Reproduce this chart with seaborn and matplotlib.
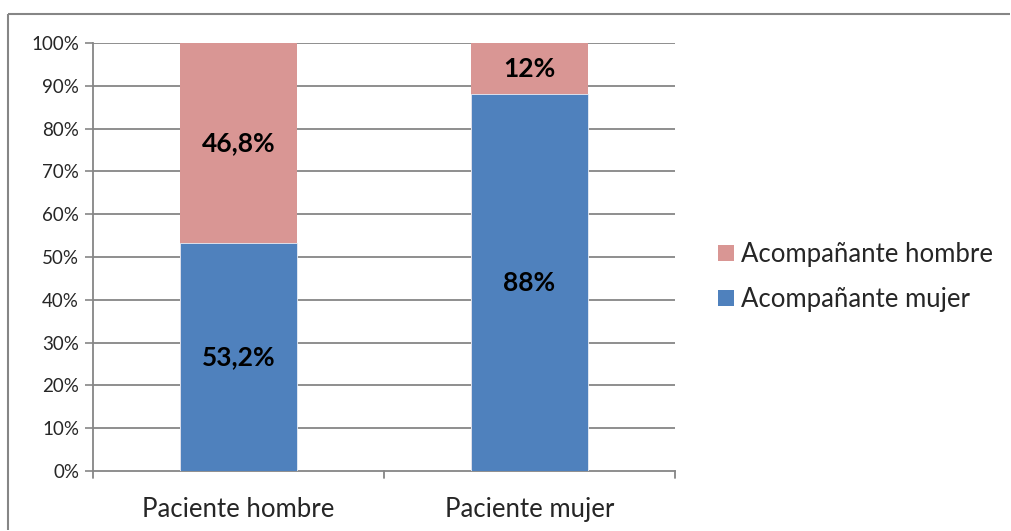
import matplotlib
matplotlib.use("Agg")
import matplotlib.pyplot as plt
from matplotlib.patches import Patch
from matplotlib.lines import Line2D
import seaborn as sns
import pandas as pd

categorias = ["Paciente hombre", "Paciente mujer"]
acomp_mujer = [53.2, 88.0]
acomp_hombre = [46.8, 12.0]
etiq_mujer = ["53,2%", "88%"]
etiq_hombre = ["46,8%", "12%"]
ticks_y = [0, 10, 20, 30, 40, 50, 60, 70, 80, 90, 100]

color_mujer = "#4F81BD"
color_hombre = "#D99694"
gris = "#868686"

sns.set_theme(style="white")
plt.rcParams["font.family"] = ["Lato", "DejaVu Sans"]

df = pd.DataFrame({
    "categoria": categorias,
    "mujer": acomp_mujer,
    "hombre": acomp_hombre,
})
df["total"] = df["mujer"] + df["hombre"]

fig = plt.figure(figsize=(10.11, 5.31), dpi=100, frameon=False)
ax = fig.add_axes([93 / 1011, 60 / 531, 582 / 1011, 428 / 531])

# stacked bars: the full height in pink, the lower segment in blue over it
sns.barplot(data=df, x="categoria", y="total", color=color_hombre, width=0.4,
            saturation=1, ax=ax, zorder=3)
sns.barplot(data=df, x="categoria", y="mujer", color=color_mujer, width=0.4,
            saturation=1, ax=ax, zorder=4)

# thin light seam between the two segments
for p in ax.patches[len(categorias):]:
    p.set_edgecolor("#E8EEF7")
    p.set_linewidth(0.6)
for p in ax.patches[:len(categorias)]:
    p.set_edgecolor("none")

ax.set_xlim(-0.5, 1.5)
ax.set_ylim(0, 100)
ax.set_yticks(ticks_y)
ax.set_yticklabels([f"{t}%" for t in ticks_y], fontsize=13.5)
ax.set_xlabel("")
ax.set_ylabel("")
ax.tick_params(axis="x", labelsize=18.5, pad=19, length=0)
ax.tick_params(axis="y", length=6, width=1.2, color=gris, pad=4, left=True)

for t in ticks_y[1:]:
    ax.axhline(t, color=gris, linewidth=1.3, zorder=1)

for s in ["top", "right"]:
    ax.spines[s].set_visible(False)
ax.spines["left"].set_color(gris)
ax.spines["left"].set_linewidth(1.3)
ax.spines["bottom"].set_color(gris)
ax.spines["bottom"].set_linewidth(1.3)

# category separators below the axis
for xv in [-0.5, 0.5, 1.5]:
    ax.plot([xv, xv], [0, -1.6], color=gris, linewidth=1.3, clip_on=False, zorder=2)

for i in range(len(categorias)):
    ax.text(i, acomp_mujer[i] / 2, etiq_mujer[i], ha="center", va="center",
            fontsize=19, fontweight="bold", color="black", zorder=5)
    ax.text(i, acomp_mujer[i] + acomp_hombre[i] / 2, etiq_hombre[i], ha="center",
            va="center", fontsize=19, fontweight="bold", color="black", zorder=5)

handles = [Patch(facecolor=color_hombre, edgecolor="none"),
           Patch(facecolor=color_mujer, edgecolor="none")]
fig.legend(handles, ["Acompañante hombre", "Acompañante mujer"],
           loc="center left", bbox_to_anchor=(708 / 1011, 1 - 277 / 531),
           frameon=False, fontsize=18.5, handlelength=0.6, handleheight=0.6,
           handletextpad=0.3, labelspacing=0.8, borderaxespad=0)

# outer frame around the chart: top and left edges
y_top = 1 - 13.5 / 531
x_left = 8 / 1011
fig.lines.append(Line2D([x_left, 0.999], [y_top, y_top], transform=fig.transFigure,
                        color=gris, linewidth=1.5, solid_capstyle="butt"))
fig.lines.append(Line2D([x_left, x_left], [0.001, y_top], transform=fig.transFigure,
                        color=gris, linewidth=1.5, solid_capstyle="butt"))

fig.savefig("out.png", dpi=100, facecolor="white")
